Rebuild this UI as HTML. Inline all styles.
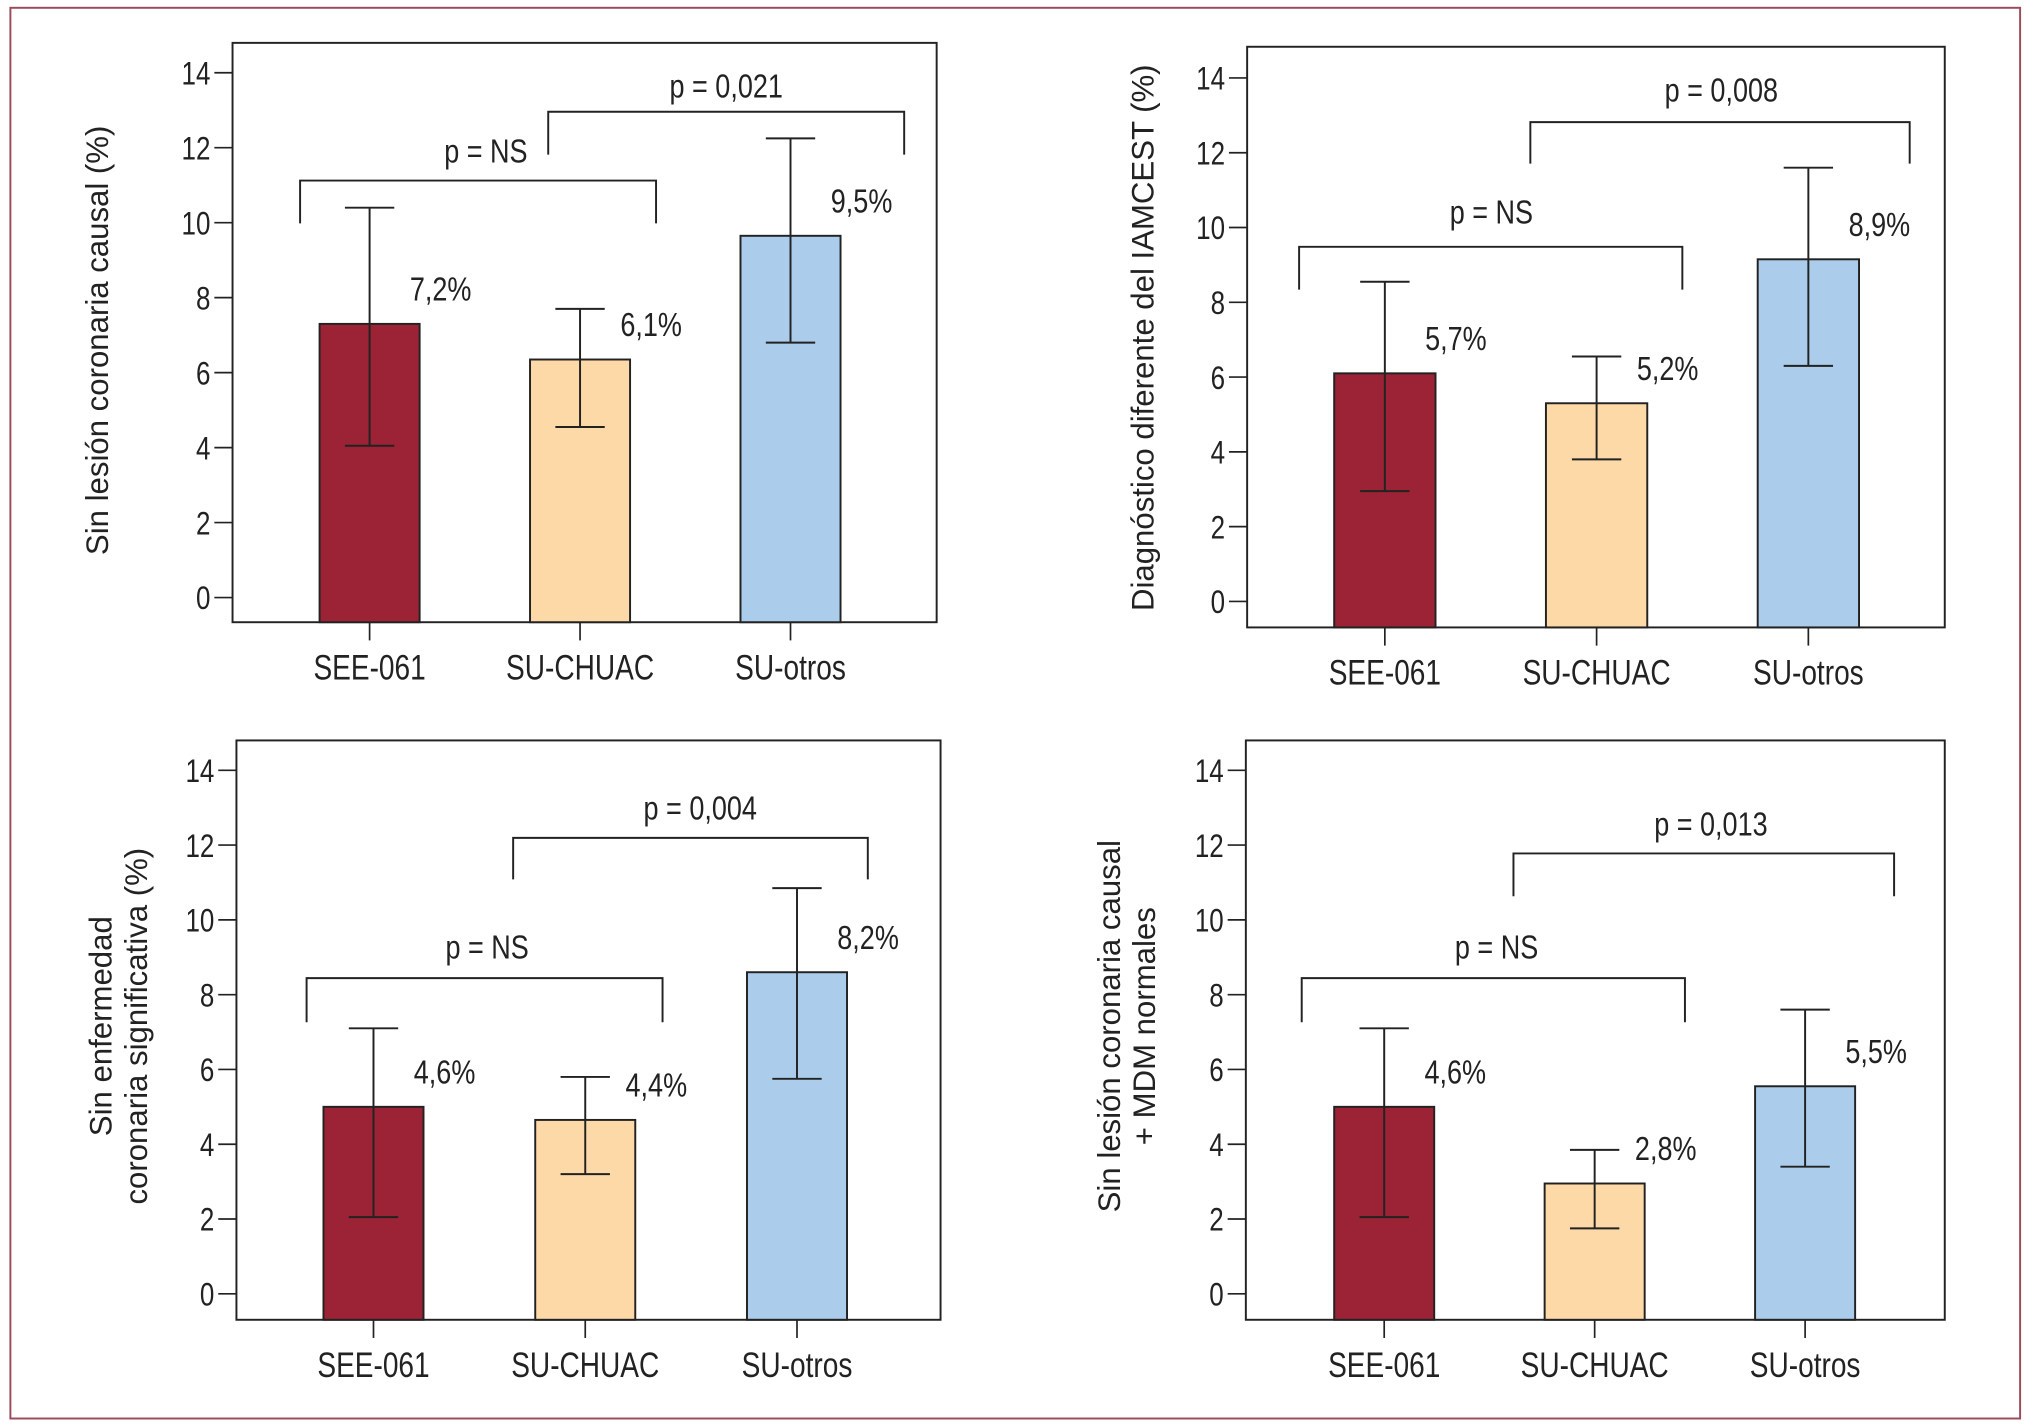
<!DOCTYPE html>
<html><head><meta charset="utf-8"><style>
html,body{margin:0;padding:0;background:#fff;}
svg{display:block;}
text{font-family:"Liberation Sans Narrow","Liberation Sans",sans-serif;fill:#222;}
</style></head><body>
<svg id="fig" width="2037" height="1425" viewBox="0 0 1568 1097" preserveAspectRatio="none" xmlns="http://www.w3.org/2000/svg">
<rect x="8" y="6" width="1547" height="1086" fill="none" stroke="#9a4a5a" stroke-width="1.5"/>
</svg>
<script>
const categories = ["SEE-061","SU-CHUAC","SU-otros"];
const yTicks = [0,2,4,6,8,10,12,14];
const p1Values = [7.3,6.35,9.65];
const p1Low = [4.05,4.55,6.8];
const p1High = [10.4,7.7,12.25];
const p1Labels = ["7,2%","6,1%","9,5%"];
const p2Values = [6.1,5.3,9.15];
const p2Low = [2.95,3.8,6.3];
const p2High = [8.55,6.55,11.6];
const p2Labels = ["5,7%","5,2%","8,9%"];
const p3Values = [5.0,4.65,8.6];
const p3Low = [2.05,3.2,5.75];
const p3High = [7.1,5.8,10.85];
const p3Labels = ["4,6%","4,4%","8,2%"];
const p4Values = [5.0,2.95,5.55];
const p4Low = [2.05,1.75,3.4];
const p4High = [7.1,3.85,7.6];
const p4Labels = ["4,6%","2,8%","5,5%"];
const pTexts1 = ["p = NS","p = 0,021"];
const pTexts2 = ["p = NS","p = 0,008"];
const pTexts3 = ["p = NS","p = 0,004"];
const pTexts4 = ["p = NS","p = 0,013"];
const colors = ["#9b2335","#fdd9a8","#abcdeb"];
const NS="http://www.w3.org/2000/svg";
const SX=0.8;
const svg=document.getElementById('fig');
function mk(tag,attrs,parent){const e=document.createElementNS(NS,tag);for(const k in attrs)e.setAttribute(k,attrs[k]);(parent||svg).appendChild(e);return e;}
function txt(parent,x,y,anchor,size,content){
  const t=mk('text',{transform:`translate(${x},${y}) scale(${SX},1)`,'text-anchor':anchor,'font-size':size},parent);
  t.textContent=content;return t;
}
function panel(id,f,vals,lo,hi,labels,ptexts,title){
  const g=mk('g',{});
  
  
  const y=v=>f.y0-(f.y0-f.y14)*v/14;
  const frame=mk('rect',{x:f.l,y:f.t,width:f.r-f.l,height:f.b-f.t,fill:'none',stroke:'#222','stroke-width':1.5},g);
  
  
  yTicks.forEach(t=>{
    const ln=mk('line',{x1:f.l-14,x2:f.l,y1:y(t),y2:y(t),stroke:'#222','stroke-width':1.3},g);
    
    
    const tx=txt(g,f.l-17,y(t)+9,'end',25,t);
    
    
  });
  const bw=f.bx[1]-f.bx[0];
  categories.forEach((c,i)=>{
    const x0=f.bx[0]+i*f.step, cx=x0+bw/2;
    const r=mk('rect',{x:x0,y:y(vals[i]),width:bw,height:f.b-y(vals[i]),fill:colors[i],stroke:'#222','stroke-width':1.5},g);
    
    
    const e=mk('path',{d:`M${cx},${y(hi[i])}V${y(lo[i])}M${cx-19},${y(hi[i])}H${cx+19}M${cx-19},${y(lo[i])}H${cx+19}`,stroke:'#222','stroke-width':1.5,fill:'none'},g);
    
    
    const vl=txt(g,cx+31,y(vals[i])-18,'start',26,labels[i]);
    
    
    const xt=mk('line',{x1:cx,x2:cx,y1:f.b,y2:f.b+14,stroke:'#222','stroke-width':1.3},g);
    
    
    const xl=txt(g,cx,f.b+44,'middle',27,c);
    
    
  });
  f.br.forEach((b,k)=>{
    const p=mk('path',{d:`M${b[0]},${b[3]}V${b[2]}H${b[1]}V${b[3]}`,fill:'none',stroke:'#222','stroke-width':1.5},g);
    
    
    const t=txt(g,b[4],b[5]+9,'middle',26,ptexts[k]);
    
    
  });
  const tt=mk('text',{transform:`translate(${f.tx},${f.ty}) rotate(-90)`,'text-anchor':'middle','font-size':24},g);
  
  
  title.forEach((line,i)=>{
    const ts=mk('tspan',{x:0,dy:i===0?0:27},tt);
    ts.textContent=line;
  });
}
panel('panel-top-left',{l:179,r:721,t:33,b:479,y0:460,y14:56,bx:[246,323],step:162,
  br:[[231,505,139,172,374,116],[422,696,86,119,559,66]],tx:83,ty:262},p1Values,p1Low,p1High,p1Labels,pTexts1,["Sin lesión coronaria causal (%)"]);
panel('panel-top-right',{l:960,r:1497,t:36,b:483,y0:463,y14:60,bx:[1027,1105],step:163,
  br:[[1000,1295,190,223,1148,163],[1178,1470,94,126,1325,69]],tx:888,ty:260},p2Values,p2Low,p2High,p2Labels,pTexts2,["Diagnóstico diferente del IAMCEST (%)"]);
panel('panel-bottom-left',{l:182,r:724,t:570,b:1016,y0:996,y14:593,bx:[249,326],step:163,
  br:[[236,510,753,787,375,729],[395,668,645,677,539,622]],tx:86,ty:790},p3Values,p3Low,p3High,p3Labels,pTexts3,["Sin enfermedad","coronaria significativa (%)"]);
panel('panel-bottom-right',{l:959,r:1497,t:570,b:1016,y0:996,y14:593,bx:[1027,1104],step:162,
  br:[[1002,1297,753,787,1152,729],[1165,1458,657,690,1317,634]],tx:862,ty:790},p4Values,p4Low,p4High,p4Labels,pTexts4,["Sin lesión coronaria causal","+ MDM normales"]);
</script>
</body></html>
